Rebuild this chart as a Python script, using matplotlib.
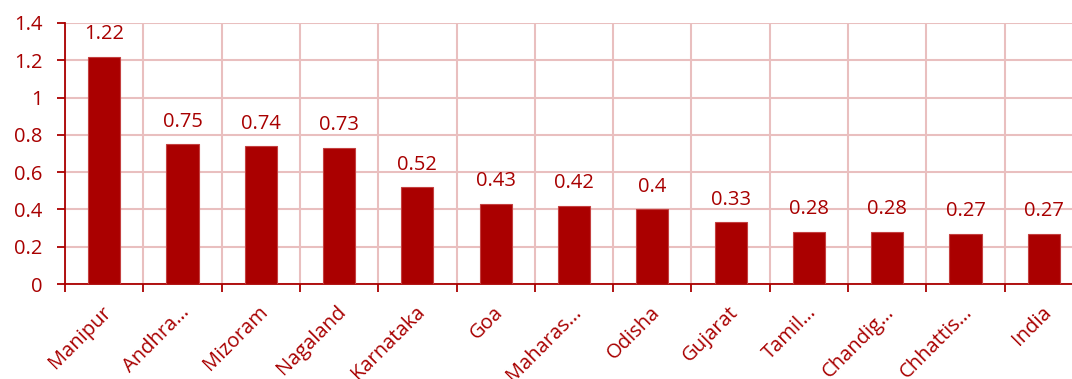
import matplotlib
matplotlib.use("Agg")
import matplotlib.pyplot as plt
from matplotlib.transforms import ScaledTranslation

plt.rcParams['font.family'] = ['Open Sans', 'DejaVu Sans']

states = ["Manipur", "Andhra…", "Mizoram", "Nagaland", "Karnataka", "Goa",
          "Maharas…", "Odisha", "Gujarat", "Tamil…", "Chandig…", "Chhattis…", "India"]
values = [1.22, 0.75, 0.74, 0.73, 0.52, 0.43, 0.42, 0.4, 0.33, 0.28, 0.28, 0.27, 0.27]
y_ticks = [0, 0.2, 0.4, 0.6, 0.8, 1, 1.2, 1.4]
y_tick_labels = ["0", "0.2", "0.4", "0.6", "0.8", "1", "1.2", "1.4"]

red = "#AA0000"
text_red = "#A80000"
grid_col = "#E9BFBF"
fs = 14.5

fig = plt.figure(figsize=(10.72, 3.79), dpi=100)
ax = fig.add_axes([65 / 1072, 95 / 379, 1018 / 1072, 261 / 379])

x = list(range(len(states)))
ax.bar(x, values, width=0.41, color=red, edgecolor="#C44040", linewidth=0.8, zorder=3)

for xi, v in zip(x, values):
    ax.annotate(f"{v:g}", (xi, v), xytext=(0, 9), textcoords="offset points",
                ha="center", va="bottom", color=text_red, fontsize=fs)

ax.set_xlim(-0.5, len(states) - 0.5)
ax.set_ylim(0, 1.4)
ax.set_yticks(y_ticks)
ax.set_yticklabels(y_tick_labels)

# category boundaries carry the vertical gridlines and the bottom ticks
bounds = [i - 0.5 for i in range(len(states) + 1)]
ax.set_xticks(bounds)
ax.set_xticklabels([])
ax.set_xticks(x, minor=True)
ax.set_xticklabels(states, minor=True, rotation=45, ha="right",
                   rotation_mode="anchor", color=text_red, fontsize=fs)
ax.tick_params(axis="x", which="minor", length=0, pad=13)
ax.tick_params(axis="x", which="major", length=6, width=1.3, color=red, direction="out")
ax.tick_params(axis="y", length=6, width=1.3, color=red, labelcolor=text_red,
               labelsize=fs, pad=10)

ax.grid(True, which="major", color=grid_col, linewidth=1.5, zorder=0)
ax.set_axisbelow(True)

for side in ["top", "right"]:
    ax.spines[side].set_visible(False)
for side in ["left", "bottom"]:
    ax.spines[side].set_color(red)
    ax.spines[side].set_linewidth(1.3)

# shift rotated category labels so their ends sit near the bar centres
offset = ScaledTranslation(-2 / 72, 0, fig.dpi_scale_trans)
for lbl in ax.get_xticklabels(minor=True):
    lbl.set_transform(lbl.get_transform() + offset)

fig.savefig("out.png", dpi=100)
